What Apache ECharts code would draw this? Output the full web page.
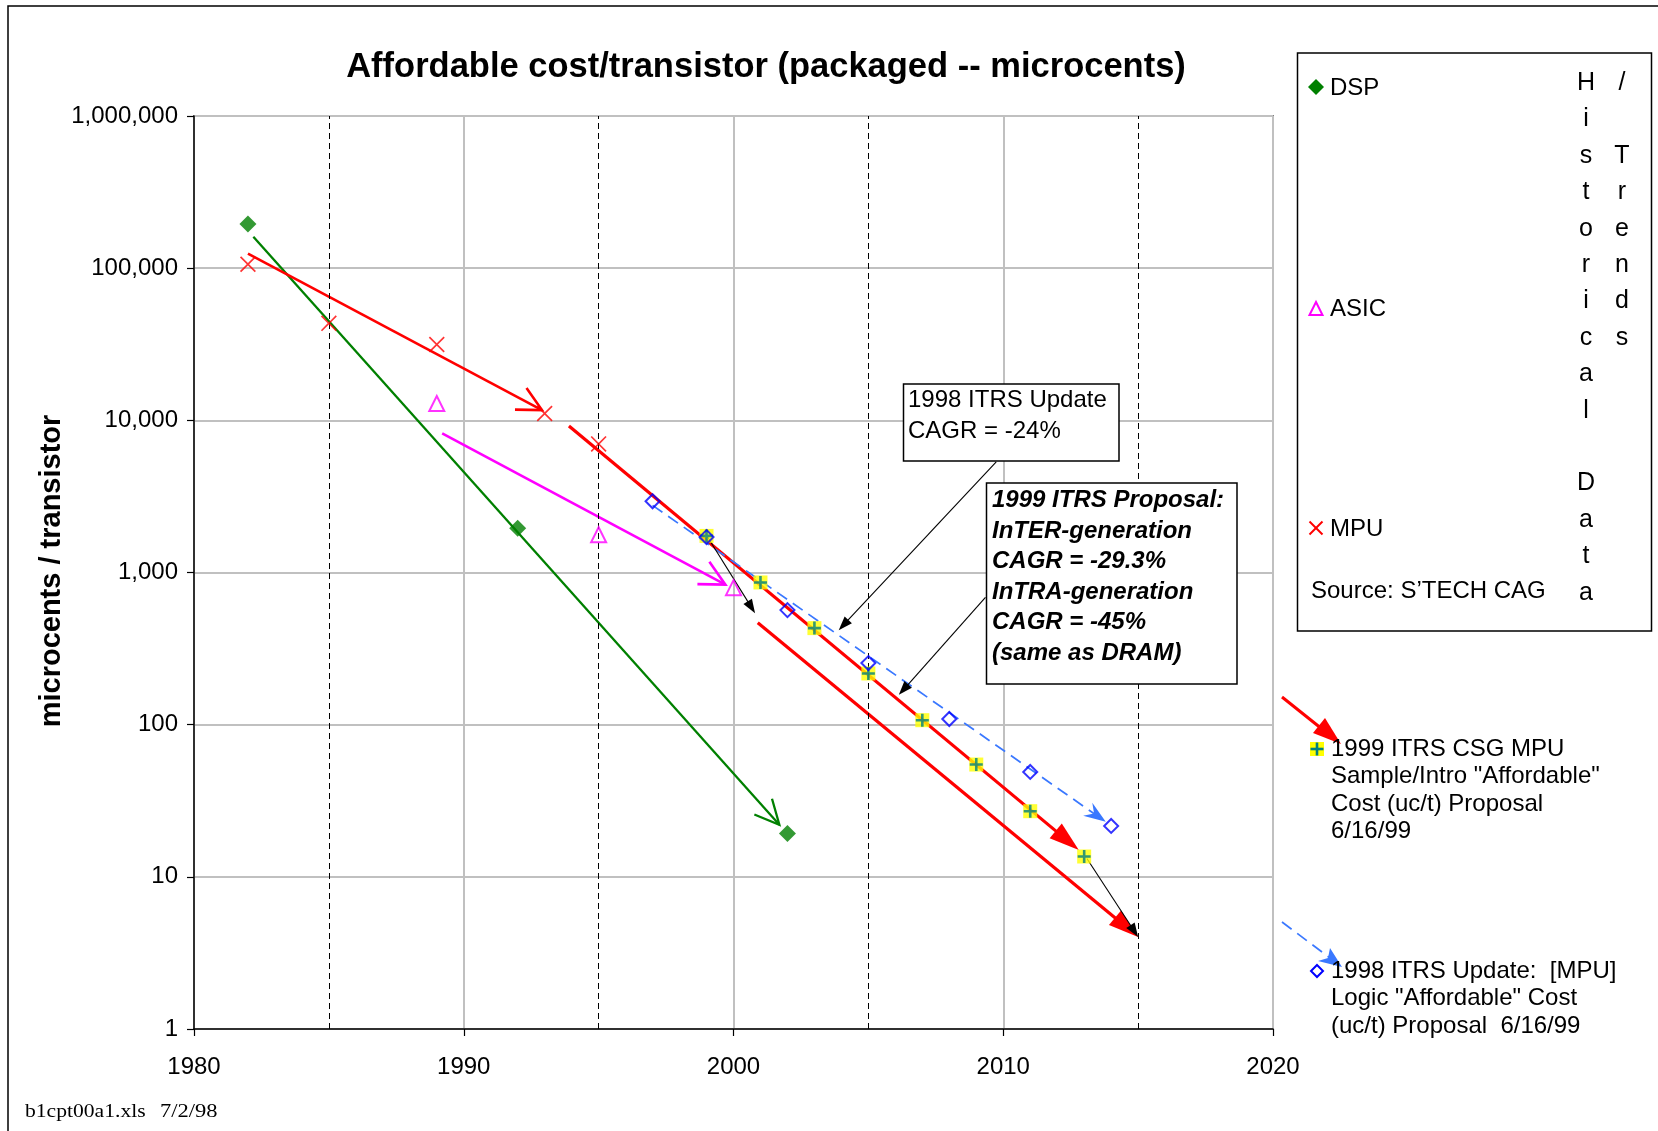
<!DOCTYPE html>
<html>
<head>
<meta charset="utf-8">
<title>Affordable cost/transistor</title>
<script src="https://cdn.jsdelivr.net/npm/echarts@6/dist/echarts.min.js"></script>
<style>
  html, body { margin: 0; padding: 0; background: #ffffff; }
  #chart { width: 1658px; height: 1131px; }
</style>
</head>
<body>
<div id="chart"></div>
<script>
const FONT = '"Liberation Sans", Arial, Helvetica, sans-serif';
const SERIF = '"Liberation Serif", "Times New Roman", serif';

// Historical data (S'TECH CAG), microcents per transistor
const dspYears = [1982, 1992, 2002];
const dspValues = [195000, 1950, 19.3];
const asicYears = [1989, 1995, 2000];
const asicValues = [12900, 1770, 795];
const mpuYears = [1982, 1985, 1989, 1993, 1995];
const mpuValues = [106000, 43400, 31500, 11100, 7000];

// 1999 ITRS CSG MPU sample/intro "affordable" cost proposal
const csgYears = [1999, 2001, 2003, 2005, 2007, 2009, 2011, 2013];
const csgValues = [1740, 860, 431, 217, 107, 54.7, 27, 13.6];

// 1998 ITRS update: logic "affordable" cost proposal
const itrs98Years = [1997, 1999, 2002, 2005, 2008, 2011, 2014];
const itrs98Values = [2940, 1710, 566, 254, 109, 48.9, 21.6];

// axis ranges / ticks
const yearTicks = [1980, 1990, 2000, 2010, 2020];
const halfDecadeYears = [1985, 1995, 2005, 2015];
const costTicks = [1, 10, 100, 1000, 10000, 100000, 1000000];

// trend arrows: [year, value] at the tail and at the head
const trendStart = [[1982.2, 161000], [1982.0, 124700], [1989.2, 8200], [1993.9, 9180], [2000.9, 468], [1997.0, 2760]];
const trendEnd   = [[2001.7, 22],     [1992.9, 11670],  [1999.7, 832],  [2012.8, 15],   [2015.0, 4.03], [2013.8, 23]];
const trendKinds = ['dsp', 'mpu', 'asic', 'inter', 'intra', 'update'];

// thin black pointers (shift to intra-generation line, callout leaders)
const pointerStart = [[1999.04, 1710], [2013.1, 13.2], [2009.74, 5330], [2009.34, 687]];
const pointerEnd   = [[2000.8, 540],   [2015.0, 4.03], [2003.9, 418],   [2006.13, 157]];

const arrowStyles = {
  dsp:     { color: '#008000', width: 2.3, head: 'open',    len: 27, ang: 26 },
  mpu:     { color: '#ff0000', width: 2.6, head: 'open',    len: 27, ang: 27 },
  asic:    { color: '#ff00ff', width: 2.6, head: 'open',    len: 28, ang: 27 },
  inter:   { color: '#ff0000', width: 3.2, head: 'solid',   len: 30, half: 9.5 },
  intra:   { color: '#ff0000', width: 3.2, head: 'solid',   len: 30, half: 9.5 },
  update:  { color: '#3a78ff', width: 1.7, head: 'stealth', len: 22, half: 8, dash: [12, 7] },
  pointer: { color: '#000000', width: 1.1, head: 'solid',   len: 14, half: 5 }
};

const X_SYMBOL = 'path://M0,1.5L1.5,0L10,8.5L18.5,0L20,1.5L11.5,10L20,18.5L18.5,20L10,11.5L1.5,20L0,18.5L8.5,10Z';
const PLUS_SYMBOL = 'path://M8,0H12V8H20V12H12V20H8V12H0V8H8Z';

function pairs(xs, ys) { return xs.map((x, i) => [x, ys[i]]); }

function arrowShapes(p1, p2, s) {
  const dx = p2[0] - p1[0], dy = p2[1] - p1[1];
  const L = Math.hypot(dx, dy) || 1;
  const ux = dx / L, uy = dy / L;
  const nx = -uy, ny = ux;
  const out = [];
  let lineEnd = p2;
  if (s.head === 'solid') lineEnd = [p2[0] - ux * s.len * 0.7, p2[1] - uy * s.len * 0.7];
  if (s.head === 'stealth') lineEnd = [p2[0] - ux * s.len * 0.5, p2[1] - uy * s.len * 0.5];
  out.push({
    type: 'line',
    shape: { x1: p1[0], y1: p1[1], x2: lineEnd[0], y2: lineEnd[1] },
    style: { stroke: s.color, lineWidth: s.width, lineDash: s.dash || null, fill: 'none' }
  });
  if (s.head === 'open') {
    const a = s.ang * Math.PI / 180;
    const bx = -ux, by = -uy;
    const arm = (t) => [p2[0] + (bx * Math.cos(t) - by * Math.sin(t)) * s.len,
                        p2[1] + (bx * Math.sin(t) + by * Math.cos(t)) * s.len];
    out.push({
      type: 'polyline',
      shape: { points: [arm(a), p2, arm(-a)] },
      style: { stroke: s.color, lineWidth: s.width, fill: 'none', lineJoin: 'miter' }
    });
  } else {
    const bx = p2[0] - ux * s.len, by = p2[1] - uy * s.len;
    const pts = [p2, [bx + nx * s.half, by + ny * s.half]];
    if (s.head === 'stealth') pts.push([p2[0] - ux * s.len * 0.65, p2[1] - uy * s.len * 0.65]);
    pts.push([bx - nx * s.half, by - ny * s.half]);
    out.push({ type: 'polygon', shape: { points: pts }, style: { fill: s.color } });
  }
  return out;
}

function arrowSeries(name, starts, ends, kindOf) {
  return {
    type: 'custom',
    name: name,
    z: 3,
    silent: true,
    encode: { x: [0, 2], y: [1, 3] },
    data: starts.map((p, i) => [p[0], p[1], ends[i][0], ends[i][1]]),
    renderItem: function (params, api) {
      const p1 = api.coord([api.value(0), api.value(1)]);
      const p2 = api.coord([api.value(2), api.value(3)]);
      return { type: 'group', children: arrowShapes(p1, p2, arrowStyles[kindOf(params.dataIndex)]) };
    }
  };
}

function txt(text, x, y, opts) {
  const o = opts || {};
  const fontSize = o.size || 24;
  return {
    type: 'text',
    z: o.z || 110,
    silent: true,
    x: x, y: y,
    rotation: o.rotation || 0,
    scaleX: o.scaleX || 1,
    style: {
      text: text, x: 0, y: 0,
      fill: o.color || '#000',
      fontSize: fontSize,
      fontFamily: o.family || FONT,
      fontWeight: o.weight || 'normal',
      fontStyle: o.style || 'normal',
      lineHeight: o.lh || fontSize * 1.2,
      align: o.align || 'left', textAlign: o.align || 'left',
      verticalAlign: o.valign || 'middle', textVerticalAlign: o.valign || 'middle'
    }
  };
}

const chart = echarts.init(document.getElementById('chart'), null, { renderer: 'canvas' });

const graphics = [
  // outer frame
  { type: 'rect', z: 0, silent: true, shape: { x: 8, y: 6, width: 1700, height: 1200 },
    style: { fill: 'none', stroke: '#000', lineWidth: 1.5 } },
  txt('Affordable cost/transistor (packaged -- microcents)', 766, 67, { size: 34.5, weight: 'bold', align: 'center' }),
  // value axis title
  txt('microcents / transistor', 52, 571, { size: 29, weight: 'bold', align: 'center', rotation: Math.PI / 2 }),

  // callout: 1998 update
  { type: 'rect', z: 100, silent: true, shape: { x: 903.5, y: 384, width: 215.5, height: 77 },
    style: { fill: '#fff', stroke: '#000', lineWidth: 1.5 } },
  txt('1998 ITRS Update\nCAGR = -24%', 908, 385, { valign: 'top', lh: 30.6 }),

  // callout: 1999 proposal
  { type: 'rect', z: 100, silent: true, shape: { x: 986.5, y: 483, width: 250.5, height: 201 },
    style: { fill: '#fff', stroke: '#000', lineWidth: 1.5 } },
  txt('1999 ITRS Proposal:\nInTER-generation\nCAGR = -29.3%\nInTRA-generation\nCAGR = -45%\n(same as DRAM)',
      992, 485, { valign: 'top', lh: 30.6, weight: 'bold', style: 'italic' }),

  // legend box
  { type: 'rect', z: 100, silent: true, shape: { x: 1297.5, y: 53, width: 354, height: 578 },
    style: { fill: '#fff', stroke: '#000', lineWidth: 1.5 } },
  { type: 'polygon', z: 110, silent: true, shape: { points: [[1316, 79], [1324, 87], [1316, 95], [1308, 87]] },
    style: { fill: '#008000' } },
  txt('DSP', 1330, 88),
  { type: 'polygon', z: 110, silent: true, shape: { points: [[1316, 302], [1322.5, 315], [1309.5, 315]] },
    style: { fill: 'none', stroke: '#ff00ff', lineWidth: 2 } },
  txt('ASIC', 1330, 309),
  { type: 'polyline', z: 110, silent: true, shape: { points: [[1309.5, 521.5], [1322.5, 534.5]] },
    style: { stroke: '#ff0000', lineWidth: 2 } },
  { type: 'polyline', z: 110, silent: true, shape: { points: [[1322.5, 521.5], [1309.5, 534.5]] },
    style: { stroke: '#ff0000', lineWidth: 2 } },
  txt('MPU', 1330, 529),
  txt('Source: S\u2019TECH CAG', 1311, 591),
  txt('H\ni\ns\nt\no\nr\ni\nc\na\nl\n \nD\na\nt\na', 1586, 65, { size: 25, align: 'center', valign: 'top', lh: 36.4 }),
  txt('/\n \nT\nr\ne\nn\nd\ns', 1622, 65, { size: 25, align: 'center', valign: 'top', lh: 36.4 }),

  // key for the 1999 CSG proposal
  { type: 'line', z: 110, silent: true, shape: { x1: 1282, y1: 697, x2: 1322, y2: 729 },
    style: { stroke: '#ff0000', lineWidth: 3 } },
  { type: 'polygon', z: 110, silent: true, shape: { points: [[1341, 744], [1313, 733], [1325, 718]] },
    style: { fill: '#ff0000' } },
  { type: 'rect', z: 108, silent: true, shape: { x: 1310, y: 742, width: 14, height: 14 }, style: { fill: '#ffff00' } },
  { type: 'rect', z: 109, silent: true, shape: { x: 1315.7, y: 742.5, width: 2.6, height: 13 }, style: { fill: '#008080' } },
  { type: 'rect', z: 109, silent: true, shape: { x: 1310.5, y: 747.7, width: 13, height: 2.6 }, style: { fill: '#008080' } },
  txt('1999 ITRS CSG MPU\nSample/Intro "Affordable"\nCost (uc/t) Proposal\n6/16/99', 1331, 735.2, { valign: 'top', lh: 27.6 }),

  // key for the 1998 update
  { type: 'line', z: 110, silent: true, shape: { x1: 1282, y1: 922, x2: 1330, y2: 958 },
    style: { stroke: '#3a78ff', lineWidth: 1.7, lineDash: [12, 7] } },
  { type: 'polygon', z: 110, silent: true, shape: { points: [[1342, 967], [1318, 961], [1328, 958], [1330, 948]] },
    style: { fill: '#3a78ff' } },
  { type: 'polygon', z: 110, silent: true, shape: { points: [[1317, 965], [1323, 971], [1317, 977], [1311, 971]] },
    style: { fill: 'none', stroke: '#0000ff', lineWidth: 2 } },
  txt('1998 ITRS Update:  [MPU]\nLogic "Affordable" Cost\n(uc/t) Proposal  6/16/99', 1331, 957.2, { valign: 'top', lh: 27.6 }),

  // file stamp
  txt('b1cpt00a1.xls', 25, 1112, { size: 18, family: SERIF, scaleX: 1.2 }),
  txt('7/2/98', 160, 1112, { size: 18, family: SERIF, scaleX: 1.25 })
];

const option = {
  backgroundColor: '#ffffff',
  animation: false,
  grid: {
    left: 194, top: 116, width: 1079, height: 913,
    show: true, borderColor: '#808080', borderWidth: 2, backgroundColor: 'transparent'
  },
  xAxis: {
    type: 'value',
    min: yearTicks[0], max: yearTicks[yearTicks.length - 1], interval: 10,
    axisLine: { show: true, lineStyle: { color: '#000', width: 1.5 } },
    axisTick: { show: true, inside: false, length: 7, lineStyle: { color: '#000', width: 1.2 } },
    axisLabel: { color: '#000', fontSize: 24, fontFamily: FONT, margin: 26, formatter: v => String(v) },
    splitLine: { show: true, lineStyle: { color: '#c0c0c0', width: 2 } }
  },
  yAxis: {
    type: 'log', logBase: 10,
    min: costTicks[0], max: costTicks[costTicks.length - 1],
    splitNumber: costTicks.length - 1,
    axisLine: { show: true, lineStyle: { color: '#000', width: 1.5 } },
    axisTick: { show: true, inside: false, length: 7, lineStyle: { color: '#000', width: 1.2 } },
    minorTick: { show: false },
    axisLabel: {
      color: '#000', fontSize: 24, fontFamily: FONT, margin: 16,
      formatter: v => String(Math.round(v)).replace(/\B(?=(\d{3})+(?!\d))/g, ',')
    },
    splitLine: { show: true, lineStyle: { color: '#c0c0c0', width: 2 } }
  },
  graphic: graphics,
  series: [
    {
      type: 'line', name: 'half-decade', data: [], silent: true, z: 1,
      markLine: {
        silent: true, symbol: 'none', label: { show: false },
        lineStyle: { type: [6, 4], color: '#000', width: 1 },
        data: halfDecadeYears.map(y => ({ xAxis: y }))
      }
    },
    arrowSeries('trends', trendStart, trendEnd, i => trendKinds[i]),
    arrowSeries('pointers', pointerStart, pointerEnd, () => 'pointer'),
    {
      type: 'scatter', name: 'DSP', z: 5, silent: true,
      symbol: 'diamond', symbolSize: 17,
      itemStyle: { color: '#008000' },
      data: pairs(dspYears, dspValues)
    },
    {
      type: 'scatter', name: 'ASIC', z: 5, silent: true,
      symbol: 'triangle', symbolSize: 15,
      itemStyle: { color: 'rgba(255,255,255,0)', borderColor: '#ff00ff', borderWidth: 2 },
      data: pairs(asicYears, asicValues)
    },
    {
      type: 'scatter', name: 'MPU', z: 5, silent: true,
      symbol: X_SYMBOL, symbolSize: 16,
      itemStyle: { color: '#ff0000' },
      data: pairs(mpuYears, mpuValues)
    },
    {
      type: 'scatter', name: '1999 ITRS CSG MPU', z: 5, silent: true,
      symbol: 'rect', symbolSize: 14,
      itemStyle: { color: '#ffff00' },
      data: pairs(csgYears, csgValues)
    },
    {
      type: 'scatter', name: '1999 ITRS CSG MPU cross', z: 6, silent: true,
      symbol: PLUS_SYMBOL, symbolSize: 13,
      itemStyle: { color: '#008080' },
      data: pairs(csgYears, csgValues)
    },
    {
      type: 'scatter', name: '1998 ITRS Update', z: 7, silent: true,
      symbol: 'diamond', symbolSize: 14,
      itemStyle: { color: 'rgba(255,255,255,0)', borderColor: '#0000ff', borderWidth: 2 },
      data: pairs(itrs98Years, itrs98Values)
    }
  ]
};

chart.setOption(option);
</script>
</body>
</html>
